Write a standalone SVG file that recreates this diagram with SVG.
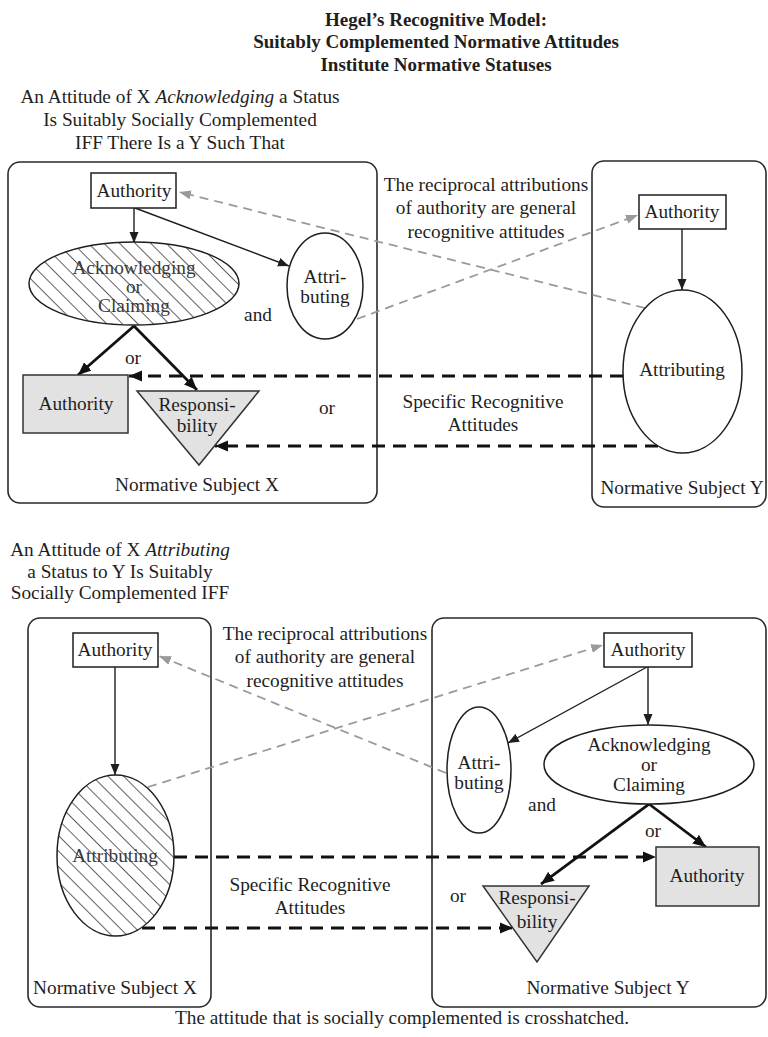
<svg xmlns="http://www.w3.org/2000/svg" width="768" height="1037" viewBox="0 0 768 1037">
<style>
text{font-family:"Liberation Serif","Times New Roman",serif;font-size:19.3px;fill:#1e1e1e;text-anchor:middle}
.title{font-weight:bold;font-size:19px}
.hl{fill:#3a3a3a}
.panel{fill:none;stroke:#2a2a2a;stroke-width:1.6}
.box{fill:#fff;stroke:#1e1e1e;stroke-width:1.5}
.status{fill:#e2e2e2;stroke:#333;stroke-width:1.5}
.ell{fill:#fff;stroke:#1e1e1e;stroke-width:1.5}
.hatch{fill:url(#hatch);stroke:#1e1e1e;stroke-width:1.5}
.thin{stroke:#1e1e1e;stroke-width:1.4;fill:none;marker-end:url(#ah)}
.thick{stroke:#111;stroke-width:2.8;fill:none;marker-end:url(#ahb)}
.dblk{stroke:#111;stroke-width:2.8;fill:none;stroke-dasharray:13 8;marker-end:url(#ahb)}
.dgray{stroke:#9a9a9a;stroke-width:1.8;fill:none;stroke-dasharray:9 6;marker-end:url(#ahg)}
</style>
<defs>
<pattern id="hatch" patternUnits="userSpaceOnUse" width="11" height="11" patternTransform="rotate(-45)">
<rect width="11" height="11" fill="#fff"/>
<line x1="0" y1="0" x2="0" y2="11" stroke="#1e1e1e" stroke-width="1.4"/>
</pattern>
<marker id="ah" markerUnits="userSpaceOnUse" markerWidth="12" markerHeight="10" refX="11" refY="5" orient="auto"><path d="M0,0.5 L11,5 L0,9.5 Z" fill="#1e1e1e"/></marker>
<marker id="ahb" markerUnits="userSpaceOnUse" markerWidth="14" markerHeight="12" refX="13" refY="6" orient="auto"><path d="M0,0.5 L13,6 L0,11.5 Z" fill="#111"/></marker>
<marker id="ahg" markerUnits="userSpaceOnUse" markerWidth="13" markerHeight="10" refX="12" refY="5" orient="auto"><path d="M0,0.5 L12,5 L0,9.5 Z" fill="#9a9a9a"/></marker>
</defs>

<g id="title">
<text class="title" x="436" y="26">Hegel’s Recognitive Model:</text>
<text class="title" x="436" y="48">Suitably Complemented Normative Attitudes</text>
<text class="title" x="436" y="71">Institute Normative Statuses</text>
</g>

<g id="subtitle-top">
<text x="180" y="103">An Attitude of X <tspan font-style="italic">Acknowledging</tspan> a Status</text>
<text x="180" y="126">Is Suitably Socially Complemented</text>
<text x="180" y="149">IFF There Is a Y Such That</text>
</g>

<!-- TOP SECTION -->
<g id="top-panel-x">
<rect class="panel" x="8" y="162" width="369" height="341" rx="12"/>
<text x="197" y="491">Normative Subject X</text>
</g>
<g id="top-panel-y">
<rect class="panel" x="592" y="161" width="174" height="346" rx="12"/>
<text x="682" y="494">Normative Subject Y</text>
</g>

<g id="connectors-top">
<line class="dgray" x1="645" y1="308" x2="179" y2="192"/>
<line class="dgray" x1="357" y1="319" x2="638" y2="215"/>
<line class="thin" x1="134" y1="208" x2="134" y2="243"/>
<line class="thin" x1="135" y1="208" x2="289" y2="266"/>
<line class="thin" x1="682" y1="229" x2="682" y2="290"/>
<line class="thick" x1="134" y1="326" x2="78" y2="375"/>
<line class="thick" x1="134" y1="326" x2="197" y2="390"/>
<line class="dblk" x1="623" y1="376" x2="129" y2="376"/>
<line class="dblk" x1="658" y1="446" x2="215" y2="446"/>
</g>

<g id="top-authority-x">
<rect class="box" x="91" y="173" width="85" height="35"/>
<text x="134" y="197">Authority</text>
</g>
<g id="top-acknowledging-x">
<ellipse class="hatch" cx="134" cy="283.5" rx="105" ry="41.5"/>
<text class="hl" x="134" y="274">Acknowledging</text>
<text class="hl" x="134" y="293">or</text>
<text class="hl" x="134" y="312">Claiming</text>
</g>
<g id="top-attributing-x">
<ellipse class="ell" cx="325" cy="286" rx="38" ry="53"/>
<text x="325" y="283">Attri-</text>
<text x="325" y="303">buting</text>
</g>
<g id="top-authority-status-x">
<rect class="status" x="23" y="375" width="105" height="58"/>
<text x="76" y="410">Authority</text>
</g>
<g id="top-responsibility-x">
<polygon class="status" points="137,391 259,391 199,465"/>
<text x="197" y="411">Responsi-</text>
<text x="197" y="432">bility</text>
</g>
<g id="top-authority-y">
<rect class="box" x="639" y="195" width="87" height="34"/>
<text x="682" y="218">Authority</text>
</g>
<g id="top-attributing-y">
<ellipse class="ell" cx="682.5" cy="371.5" rx="59.5" ry="81.5"/>
<text x="682" y="376">Attributing</text>
</g>
<g id="top-labels">
<text x="258" y="321">and</text>
<text x="133" y="364">or</text>
<text x="327" y="414">or</text>
<text x="486" y="191">The reciprocal attributions</text>
<text x="486" y="214">of authority are general</text>
<text x="486" y="238">recognitive attitudes</text>
<text x="483" y="408">Specific Recognitive</text>
<text x="483" y="431">Attitudes</text>
</g>

<!-- BOTTOM SECTION -->
<g id="subtitle-bottom">
<text x="120" y="556">An Attitude of X <tspan font-style="italic">Attributing</tspan></text>
<text x="120" y="578">a Status to Y Is Suitably</text>
<text x="120" y="599">Socially Complemented IFF</text>
</g>

<g id="bottom-panel-x">
<rect class="panel" x="28" y="618" width="183" height="389" rx="12"/>
<text x="115" y="994">Normative Subject X</text>
</g>
<g id="bottom-panel-y">
<rect class="panel" x="432" y="618" width="334" height="389" rx="12"/>
<text x="608" y="994">Normative Subject Y</text>
</g>

<g id="connectors-bottom">
<line class="dgray" x1="446" y1="773" x2="159" y2="656"/>
<line class="dgray" x1="148" y1="787" x2="603" y2="645"/>
<line class="thin" x1="115" y1="667" x2="115" y2="775"/>
<line class="thin" x1="648" y1="667" x2="648" y2="725"/>
<line class="thin" x1="647" y1="667" x2="508" y2="743"/>
<line class="thick" x1="649" y1="804" x2="706" y2="847"/>
<line class="thick" x1="649" y1="804" x2="541" y2="884"/>
<line class="dblk" x1="174" y1="857" x2="656" y2="857"/>
<line class="dblk" x1="142" y1="928" x2="513" y2="928"/>
</g>

<g id="bottom-authority-x">
<rect class="box" x="73" y="633" width="85" height="34"/>
<text x="115" y="656">Authority</text>
</g>
<g id="bottom-attributing-x">
<ellipse class="hatch" cx="115.5" cy="855.5" rx="58.5" ry="80.5"/>
<text class="hl" x="115" y="862">Attributing</text>
</g>
<g id="bottom-authority-y">
<rect class="box" x="604" y="633" width="88" height="34"/>
<text x="648" y="656">Authority</text>
</g>
<g id="bottom-attributing-y">
<ellipse class="ell" cx="479" cy="770" rx="32" ry="63"/>
<text x="479" y="769">Attri-</text>
<text x="479" y="789">buting</text>
</g>
<g id="bottom-acknowledging-y">
<ellipse class="ell" cx="649" cy="764.5" rx="105" ry="39.5"/>
<text x="649" y="751">Acknowledging</text>
<text x="649" y="771">or</text>
<text x="649" y="791">Claiming</text>
</g>
<g id="bottom-authority-status-y">
<rect class="status" x="656" y="847" width="103" height="59"/>
<text x="707" y="882">Authority</text>
</g>
<g id="bottom-responsibility-y">
<polygon class="status" points="483,886 589,886 537,962"/>
<text x="537" y="904">Responsi-</text>
<text x="537" y="928">bility</text>
</g>
<g id="bottom-labels">
<text x="542" y="811">and</text>
<text x="653" y="837">or</text>
<text x="458" y="902">or</text>
<text x="325" y="640">The reciprocal attributions</text>
<text x="325" y="663">of authority are general</text>
<text x="325" y="687">recognitive attitudes</text>
<text x="310" y="891">Specific Recognitive</text>
<text x="310" y="914">Attitudes</text>
</g>

<g id="footer">
<text x="402" y="1024">The attitude that is socially complemented is crosshatched.</text>
</g>
</svg>
